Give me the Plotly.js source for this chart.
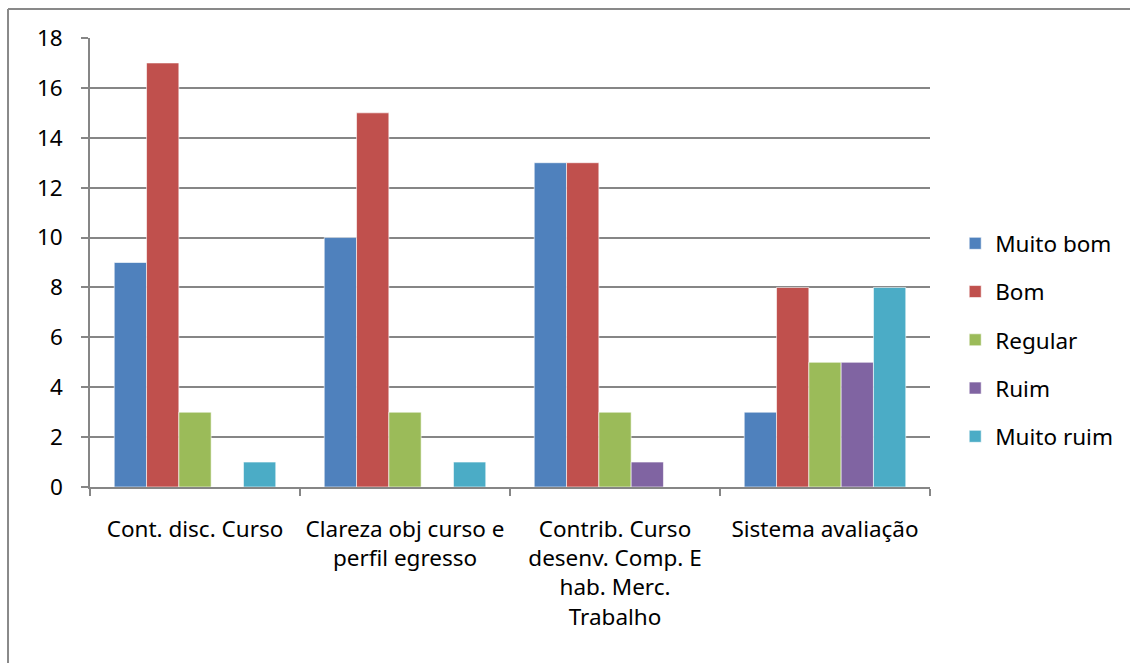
<!DOCTYPE html>
<html><head><meta charset="utf-8">
<script src="https://cdn.plot.ly/plotly-3.0.1.min.js"></script>
<style>body{margin:0;background:#fff}#c{width:1130px;height:663px}</style>
</head><body><div id="c"></div>
<script>
const categories = ["Cont. disc. Curso", "Clareza obj curso e<br>perfil egresso", "Contrib. Curso<br>desenv. Comp. E<br>hab. Merc.<br>Trabalho", "Sistema avaliação"];
const seriesNames = ["Muito bom", "Bom", "Regular", "Ruim", "Muito ruim"];
const muitoBom = [9, 10, 13, 3];
const bom = [17, 15, 13, 8];
const regular = [3, 3, 3, 5];
const ruim = [0, 0, 1, 5];
const muitoRuim = [1, 1, 0, 8];
const colors = ["#4F81BD", "#C0504D", "#9BBB59", "#8064A2", "#4BACC6"];
const values = [muitoBom, bom, regular, ruim, muitoRuim];
const fontFam = "'Noto Sans', 'Open Sans', sans-serif";
const fs = 22.5;

const traces = values.map((v, i) => ({
  type: 'bar', x: categories, y: v, name: seriesNames[i], legendgroup: 'g' + i,
  marker: {color: colors[i], line: {color: '#ffffff', width: 0.6}}
}));

const layout = {
  width: 1130, height: 663,
  margin: {l: 90, r: 200, t: 38, b: 176},
  paper_bgcolor: '#fff', plot_bgcolor: '#fff',
  barmode: 'group', bargap: 0.2308, bargroupgap: 0,
  font: {family: fontFam, size: fs, color: '#000'},
  xaxis: {
    tickson: 'boundaries', ticks: 'outside', ticklen: 7, tickcolor: '#868686', tickwidth: 1.5,
    showline: true, linecolor: '#868686', linewidth: 1.5, showgrid: false,
    ticklabelstandoff: 21,
    tickfont: {family: fontFam, size: fs, color: '#000'}, tickangle: 0
  },
  yaxis: {
    range: [0, 18], dtick: 2, ticks: 'outside', ticklen: 7, tickcolor: '#868686', tickwidth: 1.5,
    showline: true, linecolor: '#868686', linewidth: 1.5,
    showgrid: true, gridcolor: '#868686', gridwidth: 1.5, zeroline: false,
    ticklabelstandoff: 14,
    tickfont: {family: fontFam, size: fs, color: '#000'}
  },
  legend: {
    x: 1.03, xanchor: 'left', y: 0.327, yanchor: 'middle',
    font: {family: fontFam, size: fs, color: '#000'},
    tracegroupgap: 16, itemwidth: 30, bgcolor: 'rgba(0,0,0,0)'
  },
  shapes: [
    {type: 'line', xref: 'paper', yref: 'paper', x0: -0.0976, x1: 1.5, y0: 1.0646, y1: 1.0646, line: {color: '#898989', width: 2}},
    {type: 'line', xref: 'paper', yref: 'paper', x0: -0.0976, x1: -0.0976, y0: 1.0646, y1: -0.6, line: {color: '#898989', width: 2}}
  ]
};
Plotly.newPlot('c', traces, layout, {displayModeBar: false});
</script></body></html>
